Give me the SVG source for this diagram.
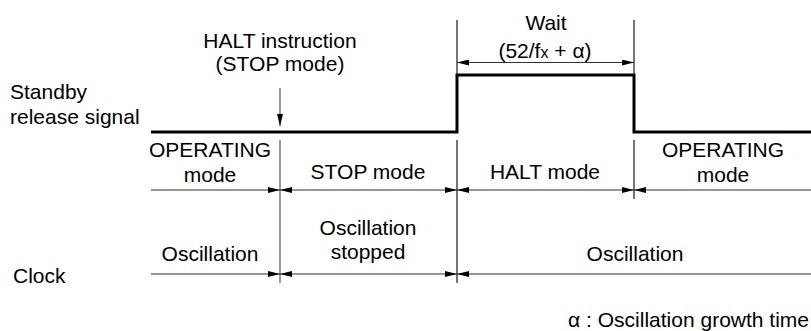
<svg xmlns="http://www.w3.org/2000/svg" width="811" height="331" viewBox="0 0 811 331">
<style>
text{font-family:"Liberation Sans",Arial,sans-serif;font-size:21px;fill:#000}
.c{text-anchor:middle}
.thin{stroke:#1a1a1a;stroke-width:1.2;fill:none}
.gray{stroke:#808080;stroke-width:1.6;fill:none}
.sig{stroke:#000;stroke-width:3;fill:none}
.dim{stroke:#333;stroke-width:1.2;fill:none;marker-start:url(#ah);marker-end:url(#ah)}
.dimE{stroke:#333;stroke-width:1.2;fill:none;marker-end:url(#ah)}
.dimS{stroke:#333;stroke-width:1.2;fill:none;marker-start:url(#ah)}
</style>
<defs>
<marker id="ah" markerUnits="userSpaceOnUse" markerWidth="13" markerHeight="6" refX="12" refY="3" orient="auto-start-reverse">
<path d="M0,0 L12,3 L0,6 z" fill="#000"/>
</marker>
</defs>
<g id="signal">
<polyline class="sig" points="151,132 457,132 457,75 634,75 634,132 811,132"/>
</g>
<g id="connectors">
<line class="gray" x1="280" y1="88" x2="280" y2="126" style="marker-end:url(#ah)"/>
<line class="thin" x1="457" y1="20" x2="457" y2="75"/>
<line class="thin" x1="634" y1="20" x2="634" y2="75"/>
<line class="dim" x1="457" y1="62.5" x2="634" y2="62.5"/>
<line class="gray" x1="280" y1="140" x2="280" y2="283"/>
<line class="thin" x1="457" y1="140" x2="457" y2="283"/>
<line class="thin" x1="634" y1="140" x2="634" y2="199"/>
<line class="dimE" x1="151" y1="190" x2="280" y2="190"/>
<line class="dim" x1="280" y1="190" x2="457" y2="190"/>
<line class="dim" x1="457" y1="190" x2="634" y2="190"/>
<line class="dimS" x1="634" y1="190" x2="811" y2="190"/>
<line class="dimE" x1="151" y1="274" x2="280" y2="274"/>
<line class="dim" x1="280" y1="274" x2="457" y2="274"/>
<line class="dimS" x1="457" y1="274" x2="811" y2="274"/>
</g>
<g id="labels-left">
<text x="10" y="99">Standby</text>
<text x="10" y="124">release signal</text>
<text x="13" y="283">Clock</text>
</g>
<g id="halt-instruction">
<text class="c" x="280" y="48">HALT instruction</text>
<text class="c" x="280" y="71">(STOP mode)</text>
</g>
<g id="wait">
<text class="c" x="546" y="30">Wait</text>
<text class="c" x="545" y="58">(52/f<tspan font-size="16">x</tspan> + α)</text>
</g>
<g id="mode-operating-1">
<text class="c" x="210" y="157">OPERATING</text>
<text class="c" x="210" y="182">mode</text>
</g>
<g id="mode-stop">
<text class="c" x="368" y="179">STOP mode</text>
</g>
<g id="mode-halt">
<text class="c" x="545" y="179">HALT mode</text>
</g>
<g id="mode-operating-2">
<text class="c" x="723" y="157">OPERATING</text>
<text class="c" x="723" y="182">mode</text>
</g>
<g id="clock-osc-1">
<text class="c" x="210" y="261">Oscillation</text>
</g>
<g id="clock-stopped">
<text class="c" x="368" y="235">Oscillation</text>
<text class="c" x="368" y="259">stopped</text>
</g>
<g id="clock-osc-2">
<text class="c" x="635" y="261">Oscillation</text>
</g>
<g id="note">
<text x="809" y="327" text-anchor="end">α : Oscillation growth time</text>
</g>
</svg>
